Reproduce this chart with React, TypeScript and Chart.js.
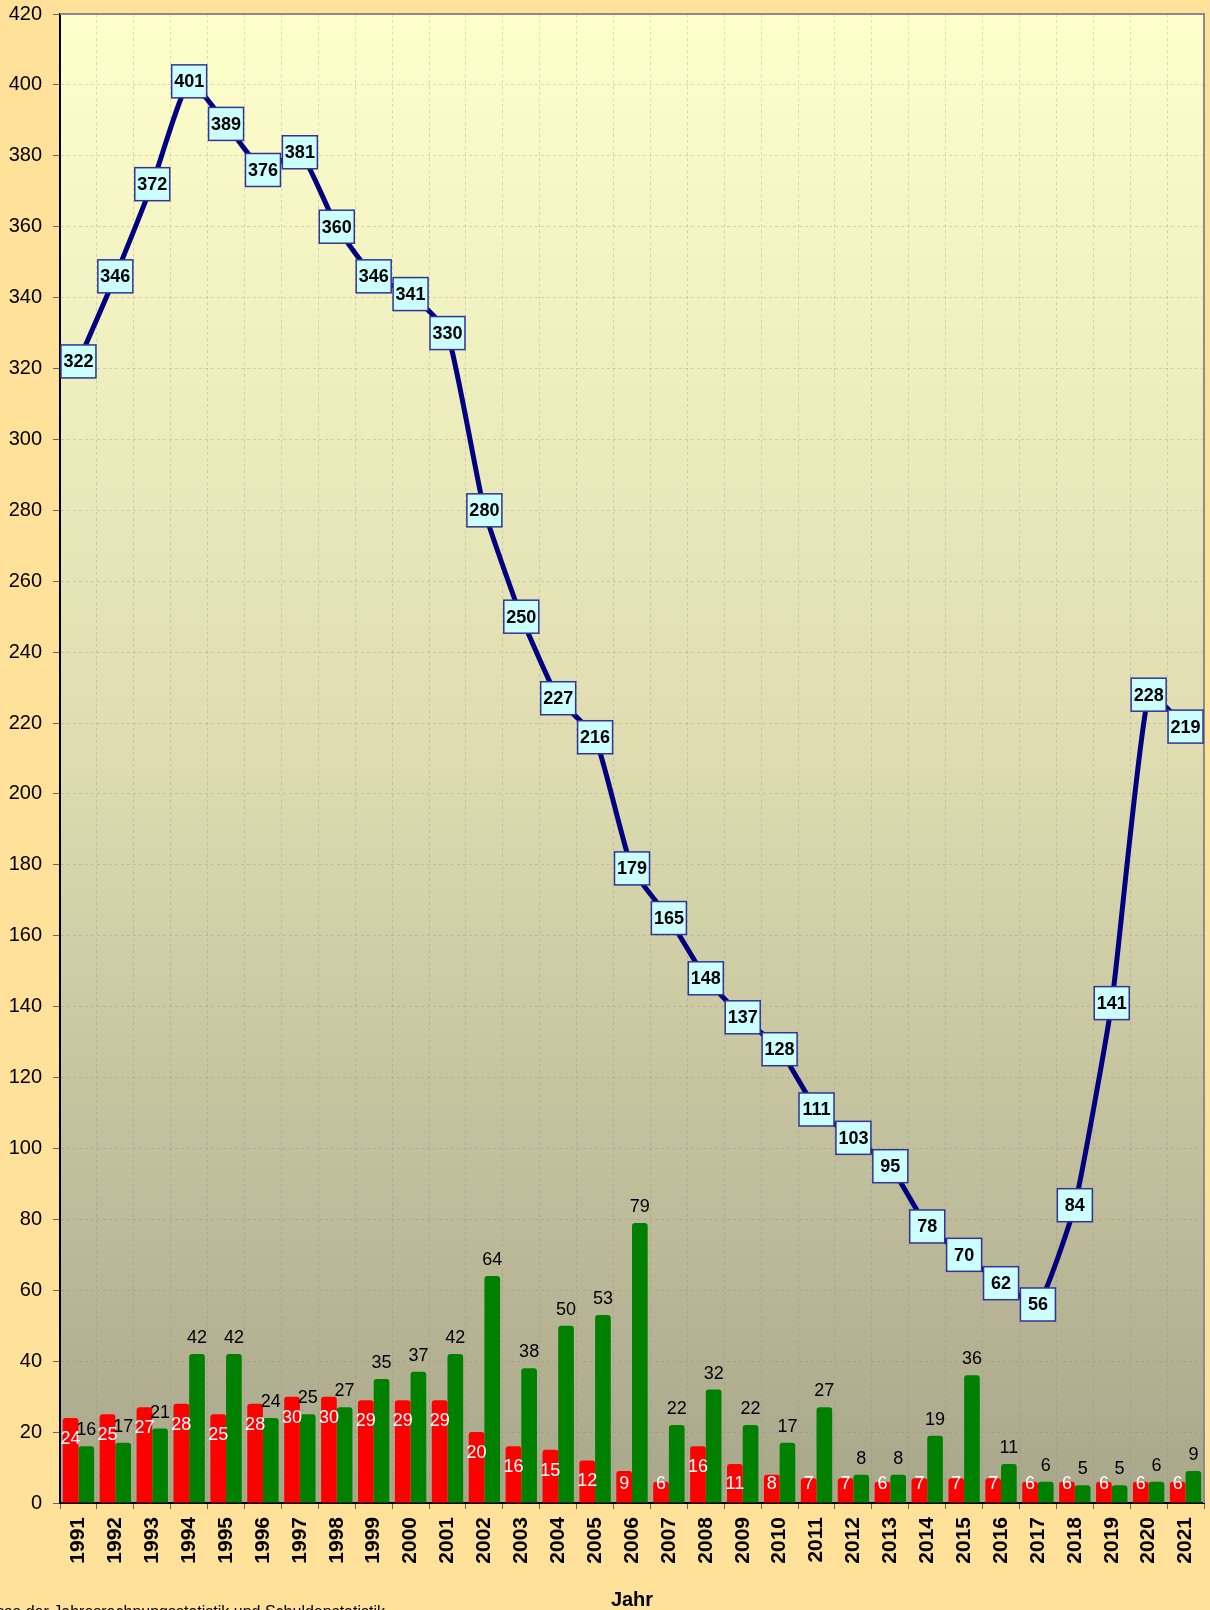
import React, { useEffect, useRef } from 'react';
import { Chart, registerables } from 'chart.js';

Chart.register(...registerables);

const years = [
  '1991', '1992', '1993', '1994', '1995', '1996', '1997', '1998', '1999', '2000',
  '2001', '2002', '2003', '2004', '2005', '2006', '2007', '2008', '2009', '2010',
  '2011', '2012', '2013', '2014', '2015', '2016', '2017', '2018', '2019', '2020', '2021',
];

const totalValues = [
  322, 346, 372, 401, 389, 376, 381, 360, 346, 341,
  330, 280, 250, 227, 216, 179, 165, 148, 137, 128,
  111, 103, 95, 78, 70, 62, 56, 84, 141, 228, 219,
];

const redValues = [
  24, 25, 27, 28, 25, 28, 30, 30, 29, 29,
  29, 20, 16, 15, 12, 9, 6, 16, 11, 8,
  7, 7, 6, 7, 7, 7, 6, 6, 6, 6, 6,
];

const greenValues = [
  16, 17, 21, 42, 42, 24, 25, 27, 35, 37,
  42, 64, 38, 50, 53, 79, 22, 32, 22, 17,
  27, 8, 8, 19, 36, 11, 6, 5, 5, 6, 9,
];

const yMin = 0;
const yMax = 420;
const yStep = 20;

const xTitle = 'Jahr';
const sourceText = 'Ergebnisse der Jahresrechnungsstatistik und Schuldenstatistik';

const FONT = '"Liberation Sans", Arial, sans-serif';

const decorPlugin = {
  id: 'decor',
  beforeDraw(chart: any) {
    const { ctx, chartArea: a, width, height } = chart;
    ctx.save();
    ctx.fillStyle = '#FFE199';
    ctx.fillRect(0, 0, width, height);
    const g = ctx.createLinearGradient(0, a.top, 0, a.bottom);
    g.addColorStop(0, '#FFFFCC');
    g.addColorStop(0.5, '#DEDCB0');
    g.addColorStop(1, '#A9A78B');
    ctx.fillStyle = g;
    ctx.fillRect(a.left, a.top, a.right - a.left, a.bottom - a.top);
    ctx.restore();
  },
  afterDatasetsDraw(chart: any) {
    const { ctx, chartArea: a } = chart;
    ctx.save();
    // top and right frame
    ctx.strokeStyle = '#8C8C8C';
    ctx.lineWidth = 2;
    ctx.beginPath();
    ctx.moveTo(a.left, a.top);
    ctx.lineTo(a.right, a.top);
    ctx.lineTo(a.right, a.bottom);
    ctx.stroke();

    ctx.textAlign = 'center';
    ctx.textBaseline = 'middle';

    // red bar labels (inside end, white)
    ctx.font = `18px ${FONT}`;
    ctx.fillStyle = '#FFFFFF';
    chart.getDatasetMeta(1).data.forEach((el: any, i: number) => {
      const y = Math.min(el.y + 21, el.base - 18);
      ctx.fillText(String(redValues[i]), el.x, y);
    });

    // green bar labels (outside end, black)
    ctx.fillStyle = '#000000';
    chart.getDatasetMeta(2).data.forEach((el: any, i: number) => {
      ctx.fillText(String(greenValues[i]), el.x, el.y - 16);
    });

    // line labels in boxes
    ctx.font = `bold 18px ${FONT}`;
    chart.getDatasetMeta(0).data.forEach((el: any, i: number) => {
      const w = 35;
      const h = 33;
      ctx.fillStyle = '#CCFFFF';
      ctx.fillRect(el.x - w / 2, el.y - h / 2, w, h);
      ctx.strokeStyle = '#333399';
      ctx.lineWidth = 1.5;
      ctx.strokeRect(el.x - w / 2, el.y - h / 2, w, h);
      ctx.fillStyle = '#000000';
      ctx.fillText(String(totalValues[i]), el.x, el.y + 1);
    });

    ctx.restore();
  },
  afterDraw(chart: any) {
    const { ctx } = chart;
    ctx.save();
    ctx.font = `16px ${FONT}`;
    ctx.fillStyle = '#000000';
    ctx.textAlign = 'left';
    ctx.textBaseline = 'alphabetic';
    const w = ctx.measureText(sourceText).width;
    ctx.fillText(sourceText, 385 - w, 1617);
    ctx.restore();
  },
};

export default function App() {
  const ref = useRef<HTMLCanvasElement>(null);

  useEffect(() => {
    document.body.style.margin = '0';
    const canvas = ref.current;
    if (!canvas) return;
    const chart = new Chart(canvas, {
      type: 'bar',
      data: {
        labels: years,
        datasets: [
          {
            type: 'line',
            label: 'Insgesamt',
            data: totalValues,
            borderColor: '#000080',
            borderWidth: 5,
            tension: 0.15,
            pointRadius: 0,
            fill: false,
            order: 0,
          } as any,
          {
            type: 'bar',
            label: 'Rot',
            data: redValues,
            backgroundColor: '#FF0000',
            borderRadius: { topLeft: 3, topRight: 3, bottomLeft: 0, bottomRight: 0 },
            borderSkipped: 'bottom',
            categoryPercentage: 0.85,
            barPercentage: 1.0,
            order: 1,
          },
          {
            type: 'bar',
            label: 'Grün',
            data: greenValues,
            backgroundColor: '#008000',
            borderRadius: { topLeft: 3, topRight: 3, bottomLeft: 0, bottomRight: 0 },
            borderSkipped: 'bottom',
            categoryPercentage: 0.85,
            barPercentage: 1.0,
            order: 1,
          },
        ],
      },
      options: {
        responsive: false,
        devicePixelRatio: 1,
        animation: false,
        layout: { padding: { top: 14, right: 6, left: 0, bottom: 0 } },
        plugins: {
          legend: { display: false },
          tooltip: { enabled: false },
        },
        scales: {
          x: {
            offset: true,
            grid: {
              offset: true,
              color: 'rgba(120,120,120,0.25)',
              tickColor: '#666666',
              tickLength: 6,
              tickBorderDash: [],
            },
            border: { color: '#000000', width: 2, dash: [3, 3] },
            ticks: {
              autoSkip: false,
              minRotation: 90,
              maxRotation: 90,
              padding: 8,
              color: '#000000',
              font: { family: FONT, size: 21, weight: 'bold' },
            },
            title: {
              display: true,
              text: xTitle,
              color: '#000000',
              font: { family: FONT, size: 20, weight: 'bold', lineHeight: 1.0 },
              padding: { top: 0, bottom: 0 },
            },
            afterFit(scale: any) {
              scale.height = 107;
              scale.paddingLeft = 0;
              scale.paddingRight = 0;
            },
          },
          y: {
            min: yMin,
            max: yMax,
            grid: {
              color: 'rgba(120,120,120,0.25)',
              tickColor: '#666666',
              tickLength: 7,
              tickBorderDash: [],
            },
            border: { color: '#000000', width: 2, dash: [3, 3] },
            ticks: {
              stepSize: yStep,
              padding: 11,
              color: '#000000',
              font: { family: FONT, size: 20 },
            },
            afterFit(scale: any) {
              scale.width = 60;
              scale.paddingTop = 0;
              scale.paddingBottom = 0;
            },
          },
        },
      },
      plugins: [decorPlugin],
    } as any);
    return () => chart.destroy();
  }, []);

  return (
    <div style={{ width: 1210, height: 1610 }}>
      <canvas ref={ref} width={1210} height={1610} style={{ display: 'block' }} />
    </div>
  );
}
